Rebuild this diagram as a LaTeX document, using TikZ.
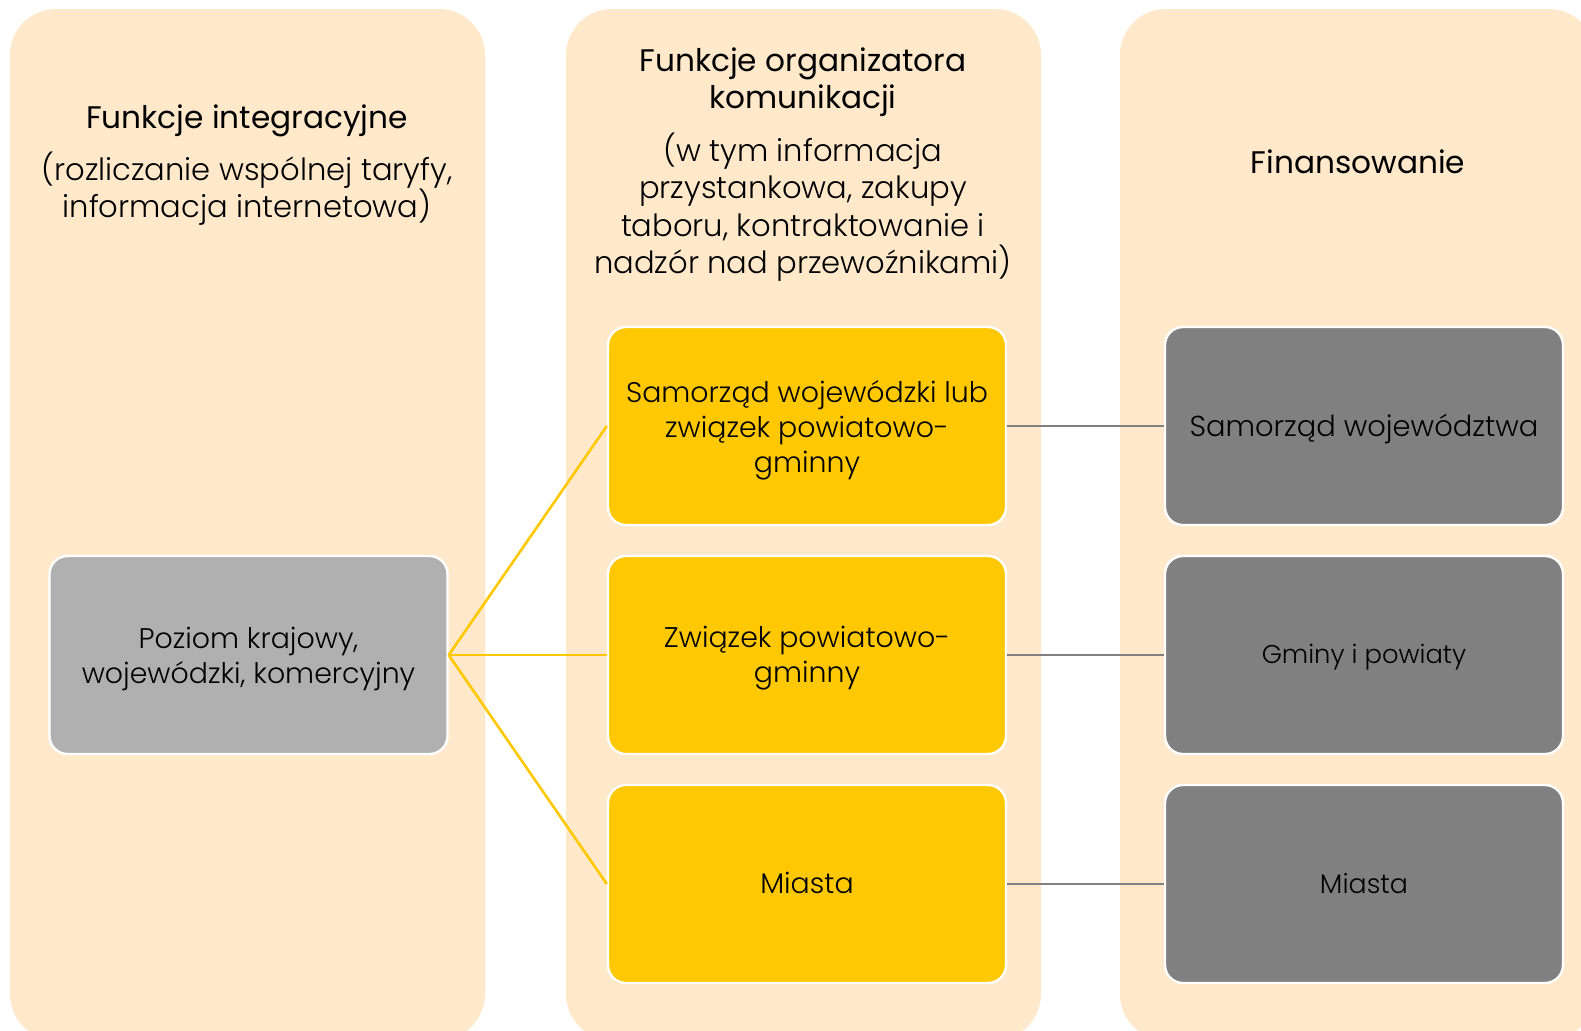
\documentclass[tikz,border=0pt]{standalone}
\usepackage{fontspec}
\setmainfont{Poppins}[UprightFont=* Light]
\newfontfamily\hdrfont{Poppins}
\definecolor{beige}{HTML}{FFE9CA}
\definecolor{yel}{HTML}{FFC800}
\definecolor{dgray}{HTML}{808080}
\definecolor{lgray}{HTML}{B0B0B0}
\tikzset{
  column/.style={fill=beige, rounded corners=23pt},
  hdr/.style={align=center, font=\hdrfont\fontsize{15.6pt}{18.5pt}\selectfont, inner sep=0pt},
  sub/.style={align=center, font=\fontsize{15.3pt}{18.7pt}\selectfont, inner sep=0pt},
  boxbase/.style={draw=white, line width=1.2pt, rounded corners=9pt, minimum width=199pt, minimum height=99pt, inner sep=0pt},
  btext/.style={align=center, inner sep=0pt, font=\fontsize{14.2pt}{17.5pt}\selectfont},
  ybox/.style={boxbase, fill=yel},
  lbox/.style={boxbase, fill=lgray},
  dbox/.style={boxbase, fill=dgray},
  yline/.style={draw=yel, line width=1.3pt},
  gline/.style={draw=dgray, line width=1.3pt}
}
\begin{document}
\begin{tikzpicture}[x=0.5pt,y=-0.5pt]
\useasboundingbox (0,0) rectangle (1581,1030);
\clip (0,0) rectangle (1581,1030);
\fill[white] (0,0) rectangle (1581,1030);
\fill[column] (10,9) rectangle (485,1040);
\fill[column] (566,9) rectangle (1041,1040);
\fill[column] (1120,9) rectangle (1595,1040);

\node[hdr] (h1) at (247,121) {Funkcje integracyjne};
\node[sub] (s1) at (247,188.5) {(rozliczanie wspólnej taryfy,\\informacja internetowa)};
\node[hdr] (h2) at (803,82) {Funkcje organizatora\\komunikacji};
\node[sub] (s2) at (803,207) {(w tym informacja\\przystankowa, zakupy\\taboru, kontraktowanie i\\nadzór nad przewoźnikami)};
\node[hdr] (h3) at (1358,162) {Finansowanie};

\node[lbox] (gl) at (248.5,655) {};
\node[ybox] (y1) at (807,426) {};
\node[ybox] (y2) at (807,655) {};
\node[ybox] (y3) at (807,884) {};
\node[dbox] (g1) at (1364,426) {};
\node[dbox] (g2) at (1364,655) {};
\node[dbox] (g3) at (1364,884) {};

\node[btext] (tgl) at ([yshift=-2pt]gl.center) {Poziom krajowy,\\wojewódzki, komercyjny};
\node[btext] (ty1) at ([yshift=-2pt]y1.center) {Samorząd wojewódzki lub\\związek powiatowo-\\gminny};
\node[btext] (ty2) at ([yshift=-1.8pt]y2.center) {Związek powiatowo-\\gminny};
\node[btext] (ty3) at ([yshift=0.3pt]y3.center) {Miasta};
\node[btext, font=\fontsize{14.45pt}{17pt}\selectfont] (tg1) at ([yshift=-1.4pt]g1.center) {Samorząd województwa};
\node[btext, font=\fontsize{12.9pt}{16pt}\selectfont] (tg2) at ([yshift=-1pt]g2.center) {Gminy i powiaty};
\node[btext, font=\fontsize{13.4pt}{16pt}\selectfont] (tg3) at ([yshift=0pt]g3.center) {Miasta};

\draw[yline] (gl.east) -- (y1.west);
\draw[yline] (gl.east) -- (y2.west);
\draw[yline] (gl.east) -- (y3.west);
\draw[gline] (y1.east) -- (g1.west);
\draw[gline] (y2.east) -- (g2.west);
\draw[gline] (y3.east) -- (g3.west);
\end{tikzpicture}
\end{document}
